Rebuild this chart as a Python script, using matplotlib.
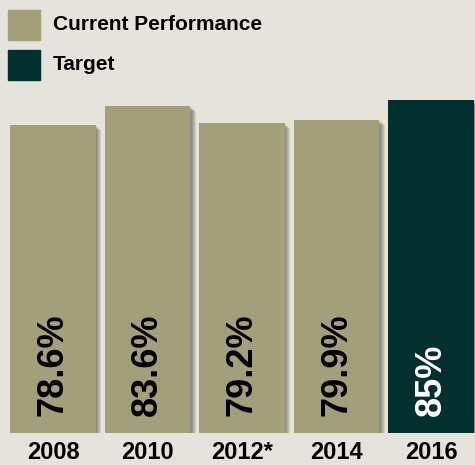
import matplotlib
matplotlib.use('Agg')
import matplotlib.pyplot as plt
import matplotlib.patheffects as pe
from matplotlib import font_manager
from matplotlib.patches import Rectangle

# Dados
years = ["2008", "2010", "2012*", "2014", "2016"]
values = [78.6, 83.6, 79.2, 79.9, 85.0]
value_labels = ["78.6%", "83.6%", "79.2%", "79.9%", "85%"]
is_target = [False, False, False, False, True]

BG = "#e6e3dc"
OLIVE = "#a39f7b"
TEAL = "#032f2f"

names = {f.name for f in font_manager.fontManager.ttflist}
narrow = "Liberation Sans Narrow" if "Liberation Sans Narrow" in names else "Liberation Sans"

fig = plt.figure(figsize=(4.75, 4.65), dpi=100, facecolor=BG)
W, H = 475, 465
ax = fig.add_axes([0, (H - 433) / H, 1, 391.5 / H])
ax.set_facecolor(BG)

colors = [TEAL if t else OLIVE for t in is_target]
shadow = [pe.SimplePatchShadow(offset=(k * 0.75, -k * 0.75), shadow_rgbFace="black", alpha=0.09)
          for k in range(1, 6)]
x = list(range(len(years)))
bars = ax.bar(x, values, width=0.91, color=colors, zorder=2)
for b in bars:
    b.set_path_effects(shadow + [pe.Normal()])

for xi, lab, t in zip(x, value_labels, is_target):
    ax.text(xi, 4.4, lab, rotation=90, ha="center", va="bottom",
            fontsize=26, fontweight="bold", family=narrow,
            color="white" if t else "black", zorder=3)

ax.set_xlim(-53 / 94.5, (W - 53) / 94.5)
ax.set_ylim(0, 100)
ax.set_xticks(x)
ax.set_xticklabels(years, fontsize=17, fontweight="bold", family="Liberation Sans")
ax.tick_params(axis="x", length=0, pad=6)
ax.set_yticks([])
for s in ax.spines.values():
    s.set_visible(False)

# Legenda
for i, (lab, c) in enumerate([("Current Performance", OLIVE), ("Target", TEAL)]):
    top = 10 + i * 40
    fig.add_artist(Rectangle((8 / W, 1 - (top + 30) / H), 32 / W, 30 / H,
                             transform=fig.transFigure, color=c))
    fig.text(53 / W, 1 - (top + 15) / H, lab, ha="left", va="center",
             fontsize=15, fontweight="bold", family="Liberation Sans")

fig.savefig("out.png", dpi=100, facecolor=BG)
plt.close(fig)
